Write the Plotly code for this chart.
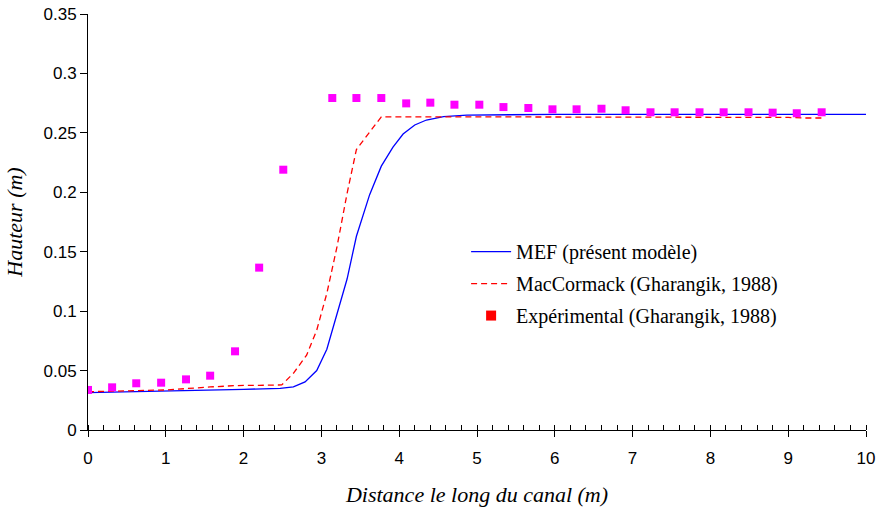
import plotly.graph_objects as go

# MEF (présent modèle)
mef_x = [0, 0.5, 1.0, 1.5, 2.0, 2.47, 2.64, 2.79, 2.94, 3.07, 3.20, 3.33, 3.45, 3.62, 3.77,
         3.92, 4.05, 4.20, 4.35, 4.57, 4.87, 5.5, 6, 7, 8, 9, 10]
mef_y = [0.0314, 0.0320, 0.0328, 0.0335, 0.0342, 0.0351, 0.0362, 0.0405, 0.0500, 0.0680,
         0.0970, 0.1270, 0.1630, 0.1980, 0.2220, 0.2380, 0.2490, 0.2566, 0.2608, 0.2636,
         0.2650, 0.2655, 0.2655, 0.2655, 0.2655, 0.2655, 0.2655]

# MacCormack (Gharangik, 1988)
mac_x = [0, 0.5, 1.0, 1.57, 1.91, 2.2, 2.49, 2.64, 2.81, 2.94, 3.07, 3.20, 3.33, 3.45, 3.62,
         3.77, 4.5, 5, 6, 7, 8, 9, 9.2, 9.45]
mac_y = [0.0322, 0.0330, 0.0337, 0.0362, 0.0374, 0.0376, 0.0379, 0.0477, 0.0630, 0.0840,
         0.1150, 0.1540, 0.1990, 0.2360, 0.2510, 0.2635, 0.2635, 0.2635, 0.2633, 0.2633,
         0.2632, 0.2630, 0.2625, 0.2625]

# Expérimental (Gharangik, 1988)
exp_x = [0, 0.31, 0.62, 0.94, 1.26, 1.57, 1.89, 2.2, 2.51, 3.14, 3.45, 3.77, 4.09, 4.4, 4.71,
         5.03, 5.34, 5.66, 5.97, 6.28, 6.6, 6.91, 7.23, 7.54, 7.86, 8.17, 8.49, 8.8, 9.11, 9.43]
exp_y = [0.0337, 0.0359, 0.0393, 0.0398, 0.0426, 0.0457, 0.0662, 0.1366, 0.2190, 0.2793,
         0.2793, 0.2793, 0.2748, 0.2754, 0.2737, 0.2737, 0.2717, 0.2709, 0.2698, 0.2698,
         0.2703, 0.2690, 0.2673, 0.2673, 0.2673, 0.2673, 0.2673, 0.2670, 0.2665, 0.2673]

serif = "Liberation Serif, Times New Roman, serif"
sans = "Liberation Sans, Arial, sans-serif"

fig = go.Figure()
fig.add_trace(go.Scatter(x=mef_x, y=mef_y, mode="lines", name="MEF (présent modèle)",
                         line=dict(color="#0000FF", width=1.3), legendgroup="a"))
fig.add_trace(go.Scatter(x=mac_x, y=mac_y, mode="lines", name="MacCormack (Gharangik, 1988)",
                         line=dict(color="#FF0000", width=1.3, dash="6px,4px"), legendgroup="b"))
fig.add_trace(go.Scatter(x=exp_x, y=exp_y, mode="markers", showlegend=False,
                         marker=dict(symbol="square", size=8, color="#FF00FF")))
fig.add_trace(go.Scatter(x=[None], y=[None], mode="markers", name="Expérimental (Gharangik, 1988)",
                         marker=dict(symbol="square", size=10, color="#FF0000"), legendgroup="c"))

fig.update_layout(
    width=879, height=507,
    margin=dict(l=88, r=13, t=14, b=77),
    plot_bgcolor="white", paper_bgcolor="white",
    showlegend=True,
    legend=dict(x=0.486, y=0.352, xanchor="left", yanchor="middle",
                font=dict(family=serif, size=20, color="black"),
                bgcolor="rgba(0,0,0,0)", tracegroupgap=3, itemwidth=40),
    xaxis=dict(range=[0, 10], dtick=1, tick0=0, showgrid=False, zeroline=False,
               automargin=False,
               showline=True, linecolor="black", linewidth=1,
               ticks="outside", ticklen=6, tickcolor="black",
               ticklabelstandoff=7,
               minor=dict(dtick=0.2, ticks="inside", ticklen=5, tickcolor="black"),
               tickfont=dict(family=sans, size=17, color="black"),
               title=dict(text="Distance le long du canal (m)", standoff=24,
                          font=dict(family=serif, size=22, color="black", style="italic"))),
    yaxis=dict(range=[0, 0.35], dtick=0.05, tick0=0, showgrid=False, zeroline=False,
               automargin=False,
               showline=True, linecolor="black", linewidth=1,
               ticks="outside", ticklen=7, tickcolor="black",
               tickfont=dict(family=sans, size=17, color="black"),
               title=dict(text="Hauteur (m)", standoff=14,
                          font=dict(family=serif, size=22, color="black", style="italic"))),
)

fig.write_html("out.html")
